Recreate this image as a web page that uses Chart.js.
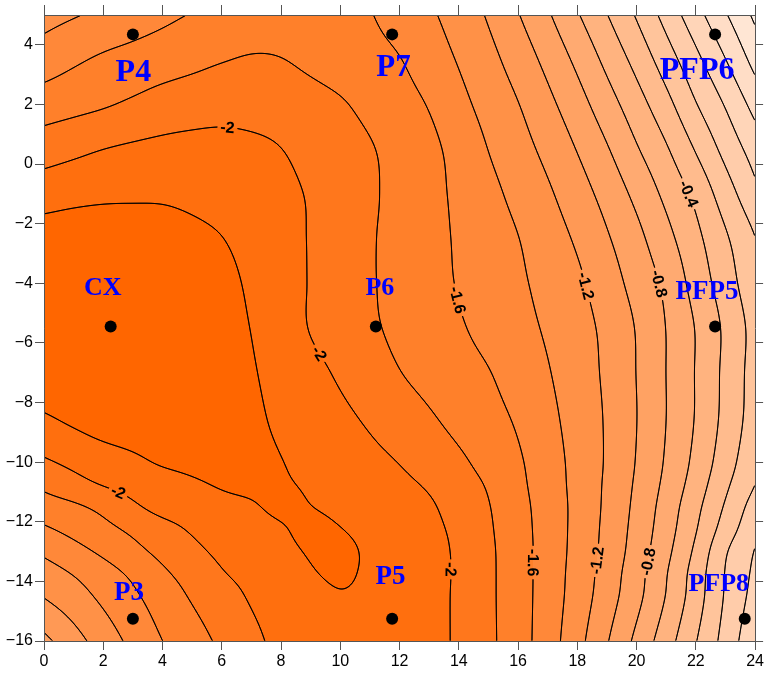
<!DOCTYPE html>
<html>
<head>
<meta charset="utf-8">
<script src="https://cdn.jsdelivr.net/npm/chart.js@4.4.1/dist/chart.umd.min.js"></script>
<style>
  html, body { margin: 0; padding: 0; background: #ffffff; }
  #wrap { width: 766px; height: 673px; }
</style>
</head>
<body>
<div id="wrap"><canvas id="chart" width="766" height="673"></canvas></div>
<script>
// ---- Gridded field values (columns = gridX, one array per row of gridY) ----
const gridX = [0, 1, 2, 3, 4, 5, 6, 7, 8, 9, 10, 11, 12, 13, 14, 15, 16, 17, 18, 19, 20, 21, 22, 23, 24];
const gridY = [5, 3.5, 2, 0.5, -1, -2.5, -4, -5.5, -7, -8.5, -10, -10.75, -11.5, -12.25, -13, -13.75, -14.5, -16];

const rowY5      = [-1.33, -1.385, -1.44, -1.498, -1.555, -1.61, -1.65, -1.70, -1.72, -1.71, -1.68, -1.61, -1.524, -1.431, -1.314, -1.18, -1.01, -0.824, -0.617, -0.406, -0.182, 0.072, 0.325, 0.582, 0.84];
const rowY3p5    = [-1.50, -1.57, -1.63, -1.67, -1.71, -1.75, -1.79, -1.815, -1.805, -1.761, -1.71, -1.659, -1.608, -1.502, -1.385, -1.259, -1.113, -0.944, -0.756, -0.548, -0.336, -0.097, 0.148, 0.395, 0.67];
const rowY2      = [-1.70, -1.74, -1.78, -1.83, -1.88, -1.91, -1.93, -1.925, -1.91, -1.87, -1.82, -1.747, -1.67, -1.589, -1.457, -1.33, -1.207, -1.051, -0.879, -0.686, -0.484, -0.264, -0.01, 0.215, 0.47];
const rowY0p5    = [-1.91, -1.955, -2.0, -2.03, -2.05, -2.06, -2.06, -2.04, -2.003, -1.941, -1.878, -1.815, -1.733, -1.646, -1.535, -1.396, -1.277, -1.146, -0.991, -0.817, -0.618, -0.422, -0.184, 0.063, 0.29];
const rowYm1     = [-2.11, -2.14, -2.16, -2.168, -2.17, -2.15, -2.12, -2.08, -2.04, -1.985, -1.903, -1.827, -1.743, -1.656, -1.562, -1.455, -1.345, -1.229, -1.088, -0.929, -0.75, -0.552, -0.351, -0.095, 0.15];
const rowYm2p5   = [-2.29, -2.31, -2.32, -2.31, -2.29, -2.25, -2.205, -2.133, -2.062, -1.989, -1.903, -1.818, -1.738, -1.659, -1.578, -1.491, -1.405, -1.293, -1.173, -1.02, -0.856, -0.661, -0.452, -0.228, -0.005];
const rowYm4     = [-2.32, -2.33, -2.34, -2.335, -2.32, -2.29, -2.25, -2.172, -2.08, -1.989, -1.904, -1.818, -1.741, -1.665, -1.588, -1.51, -1.432, -1.339, -1.237, -1.092, -0.929, -0.756, -0.522, -0.296, -0.06];
const rowYm5p5   = [-2.33, -2.34, -2.35, -2.345, -2.33, -2.30, -2.25, -2.197, -2.092, -1.99, -1.91, -1.83, -1.757, -1.689, -1.62, -1.543, -1.462, -1.376, -1.273, -1.152, -0.988, -0.796, -0.591, -0.362, -0.125];
const rowYm7     = [-2.33, -2.34, -2.34, -2.335, -2.32, -2.295, -2.26, -2.215, -2.135, -2.055, -1.974, -1.89, -1.805, -1.739, -1.674, -1.609, -1.514, -1.413, -1.295, -1.165, -0.996, -0.798, -0.59, -0.352, -0.115];
const rowYm8p5   = [-2.18, -2.24, -2.29, -2.305, -2.31, -2.30, -2.27, -2.23, -2.169, -2.104, -2.04, -1.972, -1.896, -1.82, -1.742, -1.663, -1.574, -1.451, -1.32, -1.179, -1.003, -0.80, -0.588, -0.343, -0.105];
const rowYm10    = [-1.975, -2.043, -2.11, -2.163, -2.22, -2.24, -2.245, -2.235, -2.205, -2.151, -2.10, -2.048, -1.995, -1.914, -1.834, -1.737, -1.626, -1.488, -1.338, -1.18, -0.99, -0.778, -0.548, -0.291, -0.05];
const rowYm10p75 = [-1.843, -1.932, -2.013, -2.067, -2.12, -2.174, -2.215, -2.225, -2.215, -2.18, -2.126, -2.079, -2.04, -1.978, -1.88, -1.783, -1.645, -1.498, -1.341, -1.169, -0.972, -0.751, -0.507, -0.238, -0.002];
const rowYm11p5  = [-1.71, -1.765, -1.85, -1.97, -2.06, -2.09, -2.15, -2.185, -2.23, -2.202, -2.16, -2.12, -2.075, -2.025, -1.92, -1.81, -1.665, -1.511, -1.346, -1.161, -0.952, -0.715, -0.454, -0.177, 0.09];
const rowYm12p25 = [-1.573, -1.656, -1.746, -1.838, -1.936, -2.019, -2.074, -2.129, -2.184, -2.24, -2.205, -2.147, -2.088, -2.045, -1.955, -1.825, -1.677, -1.515, -1.342, -1.149, -0.933, -0.689, -0.414, -0.11, 0.15];
const rowYm13    = [-1.435, -1.534, -1.636, -1.745, -1.852, -1.958, -2.035, -2.094, -2.153, -2.215, -2.24, -2.172, -2.109, -2.06, -1.97, -1.836, -1.685, -1.516, -1.335, -1.138, -0.911, -0.653, -0.359, -0.017, 0.21];
const rowYm13p75 = [-1.308, -1.408, -1.518, -1.634, -1.765, -1.879, -1.987, -2.054, -2.116, -2.185, -2.225, -2.171, -2.108, -2.055, -1.975, -1.838, -1.686, -1.512, -1.322, -1.114, -0.877, -0.611, -0.31, 0.012, 0.24];
const rowYm14p5  = [-1.21, -1.317, -1.443, -1.567, -1.695, -1.82, -1.92, -2.02, -2.08, -2.14, -2.19, -2.16, -2.11, -2.06, -1.97, -1.838, -1.685, -1.509, -1.311, -1.094, -0.858, -0.592, -0.295, 0.021, 0.27];
const rowYm16    = [-0.95, -1.123, -1.293, -1.452, -1.6, -1.719, -1.837, -1.953, -2.05, -2.11, -2.13, -2.12, -2.10, -2.06, -1.97, -1.841, -1.685, -1.495, -1.266, -1.015, -0.753, -0.488, -0.209, 0.073, 0.357];

const zRows = [rowY5, rowY3p5, rowY2, rowY0p5, rowYm1, rowYm2p5, rowYm4, rowYm5p5, rowYm7, rowYm8p5,
               rowYm10, rowYm10p75, rowYm11p5, rowYm12p25, rowYm13, rowYm13p75, rowYm14p5, rowYm16];

// ---- Contour levels and labelled contours ----
const contourLevels = [-2.2, -2.0, -1.8, -1.6, -1.4, -1.2, -1.0, -0.8, -0.6, -0.4, -0.2, 0.0, 0.2, 0.4, 0.6, 0.8];
const labelLevels = [-2, -2, -2, -2, -1.6, -1.6, -1.2, -1.2, -0.8, -0.8, -0.4];
const labelX      = [6.19, 9.28, 2.45, 13.75, 13.88, 16.58, 18.36, 18.7, 20.82, 20.55, 21.8];
const labelY      = [1.19, -6.36, -11.12, -13.6, -4.58, -13.37, -4.07, -13.3, -4.0, -13.37, -0.98];

// ---- Stations ----
const stationNames = ['P4', 'P7', 'PFP6', 'CX', 'P6', 'PFP5', 'P3', 'P5', 'PFP8'];
const stationX     = [3.0, 11.75, 22.65, 2.25, 11.2, 22.65, 3.0, 11.75, 23.65];
const stationY     = [4.35, 4.35, 4.35, -5.45, -5.45, -5.45, -15.25, -15.25, -15.25];

// ---- Axis ticks ----
const xTickValues = [0, 2, 4, 6, 8, 10, 12, 14, 16, 18, 20, 22, 24];
const yTickValues = [-16, -14, -12, -10, -8, -6, -4, -2, 0, 2, 4];

// ---- Styling ----
const labelReadDir = [[1, 0], [0, 1], [1, 0], [0, 1], [0, 1], [0, 1], [0, 1], [0, -1], [0, 1], [0, -1], [0, 1]];
const stationLabelStyle = [
  { dx: 0.5, dy: 47, size: 32 }, { dx: 1.4, dy: 42, size: 31 }, { dx: -18, dy: 45, size: 32 },
  { dx: -8, dy: -32, size: 26 }, { dx: 4, dy: -32, size: 26 }, { dx: -8, dy: -28, size: 27 },
  { dx: -4, dy: -19, size: 27 }, { dx: -1.6, dy: -35, size: 27 }, { dx: -26, dy: -28, size: 26 }
];
const lowColor = [255, 102, 0];
const highColor = [255, 238, 226];
const smoothSigmaPx = 5;

// ---- Smooth surface: Catmull-Rom along x, cubic Hermite along (non-uniform) y ----
const NX = gridX.length, NY = gridY.length;
const rowExt = zRows.map(r => [2 * r[0] - r[1], ...r, 2 * r[NX - 1] - r[NX - 2]]);
const uY = gridY.map(y => -y);
function cr(p0, p1, p2, p3, t) {
  return p1 + 0.5 * t * (p2 - p0 + t * (2 * p0 - 5 * p1 + 4 * p2 - p3 + t * (3 * (p1 - p2) + p3 - p0)));
}
const dxg = gridX[1] - gridX[0];
function fieldAt(x, y) {
  const fx = (x - gridX[0]) / dxg;
  const i = Math.min(Math.max(Math.floor(fx), 0), NX - 2);
  const tx = fx - i;
  const u = -y;
  let k = 0;
  while (k < NY - 2 && uY[k + 1] < u) k++;
  const rv = idx => { const r = rowExt[idx]; return cr(r[i], r[i + 1], r[i + 2], r[i + 3], tx); };
  const v0 = rv(k), v1 = rv(k + 1);
  const h = uY[k + 1] - uY[k];
  const m0 = k > 0 ? (v1 - rv(k - 1)) / (uY[k + 1] - uY[k - 1]) : (v1 - v0) / h;
  const m1 = k + 2 < NY ? (rv(k + 2) - v0) / (uY[k + 2] - uY[k]) : (v1 - v0) / h;
  const s = (u - uY[k]) / h, s2 = s * s, s3 = s2 * s;
  return (2 * s3 - 3 * s2 + 1) * v0 + (s3 - 2 * s2 + s) * h * m0 + (-2 * s3 + 3 * s2) * v1 + (s3 - s2) * h * m1;
}
function bandColor(v) {
  let k = 0;
  for (const lv of contourLevels) if (v >= lv - 1e-9) k++;
  const t = k / contourLevels.length;
  return [0, 1, 2].map(n => Math.round(lowColor[n] + t * (highColor[n] - lowColor[n])));
}

// sample the surface on a padded pixel lattice and smooth it with a small Gaussian
function sampleField(sx, sy, L, T, W, H) {
  const P = Math.ceil(3 * smoothSigmaPx);
  const PW = W + 2 * P, PH = H + 2 * P;
  let buf = new Float32Array(PW * PH);
  for (let j = 0; j < PH; j++) {
    const yv = sy.getValueForPixel(T - P + j + 0.5);
    for (let i = 0; i < PW; i++) buf[j * PW + i] = fieldAt(sx.getValueForPixel(L - P + i + 0.5), yv);
  }
  const ker = [];
  let ks = 0;
  for (let d = -P; d <= P; d++) { const w = Math.exp(-d * d / (2 * smoothSigmaPx * smoothSigmaPx)); ker.push(w); ks += w; }
  for (let d = 0; d < ker.length; d++) ker[d] /= ks;
  const tmp = new Float32Array(PW * PH);
  for (let j = 0; j < PH; j++) {
    for (let i = 0; i < PW; i++) {
      let acc = 0;
      for (let d = -P; d <= P; d++) {
        const ii = Math.min(Math.max(i + d, 0), PW - 1);
        acc += ker[d + P] * buf[j * PW + ii];
      }
      tmp[j * PW + i] = acc;
    }
  }
  const out = new Float32Array(W * H);
  for (let j = 0; j < H; j++) {
    for (let i = 0; i < W; i++) {
      let acc = 0;
      for (let d = -P; d <= P; d++) {
        const jj = Math.min(Math.max(j + P + d, 0), PH - 1);
        acc += ker[d + P] * tmp[jj * PW + i + P];
      }
      out[j * W + i] = acc;
    }
  }
  return out;
}

// ---- Plugin: filled contour bands, contour lines and their labels ----
const contourPlugin = {
  id: 'contourField',
  beforeDraw(chart) {
    const { ctx, chartArea: a } = chart;
    const sx = chart.scales.x, sy = chart.scales.y;
    const L = Math.round(a.left), T = Math.round(a.top);
    const W = Math.round(a.right) - L, H = Math.round(a.bottom) - T;
    const vals = sampleField(sx, sy, L, T, W, H);
    const img = ctx.createImageData(W, H);
    for (let p = 0; p < W * H; p++) {
      const c = bandColor(vals[p]);
      img.data[4 * p] = c[0]; img.data[4 * p + 1] = c[1]; img.data[4 * p + 2] = c[2]; img.data[4 * p + 3] = 255;
    }
    ctx.putImageData(img, L, T);

    // bilinear lookup in the sampled lattice, by pixel position
    const valAtPx = (px, py) => {
      const fx = Math.min(Math.max(px - L - 0.5, 0), W - 1.001), fy = Math.min(Math.max(py - T - 0.5, 0), H - 1.001);
      const i = Math.floor(fx), j = Math.floor(fy), tx = fx - i, ty = fy - j;
      const q = j * W + i;
      return (vals[q] * (1 - tx) + vals[q + 1] * tx) * (1 - ty) + (vals[q + W] * (1 - tx) + vals[q + W + 1] * tx) * ty;
    };

    // label placement: move each label onto its contour, orient along it
    ctx.font = 'bold 16px "Liberation Sans", Arial, sans-serif';
    const labels = labelLevels.map((lev, k) => {
      let px = sx.getPixelForValue(labelX[k]), py = sy.getPixelForValue(labelY[k]);
      const e = 1.5;
      let gx = 0, gy = 0;
      for (let it = 0; it < 12; it++) {
        const f = valAtPx(px, py) - lev;
        gx = (valAtPx(px + e, py) - valAtPx(px - e, py)) / (2 * e);
        gy = (valAtPx(px, py + e) - valAtPx(px, py - e)) / (2 * e);
        const g2 = gx * gx + gy * gy;
        if (g2 < 1e-14) break;
        let stx = f * gx / g2, sty = f * gy / g2;
        const sl = Math.hypot(stx, sty);
        if (sl > 4) { stx *= 4 / sl; sty *= 4 / sl; }
        px -= stx; py -= sty;
      }
      let ang = Math.atan2(gx, -gy);
      const d = labelReadDir[k];
      if (Math.cos(ang) * d[0] + Math.sin(ang) * d[1] < 0) ang += Math.PI;
      const text = String(lev);
      return { px, py, ang, text, w: ctx.measureText(text).width };
    });

    ctx.save();
    ctx.beginPath();
    ctx.rect(L, T, W, H);
    for (const lb of labels) {
      const hw = lb.w / 2 + 3, hh = 7;
      const c = Math.cos(lb.ang), s = Math.sin(lb.ang);
      const pts = [[-hw, -hh], [hw, -hh], [hw, hh], [-hw, hh]].map(([u, v]) => [lb.px + u * c - v * s, lb.py + u * s + v * c]);
      ctx.moveTo(pts[0][0], pts[0][1]);
      for (let q = 1; q < 4; q++) ctx.lineTo(pts[q][0], pts[q][1]);
      ctx.closePath();
    }
    ctx.clip('evenodd');
    ctx.strokeStyle = '#000000';
    ctx.lineWidth = 1;
    ctx.lineCap = 'round';
    for (const lev of contourLevels) {
      ctx.beginPath();
      for (let j = 0; j < H - 1; j++) {
        for (let i = 0; i < W - 1; i++) {
          const a0 = vals[j * W + i], b0 = vals[j * W + i + 1], c0 = vals[(j + 1) * W + i + 1], d0 = vals[(j + 1) * W + i];
          const idx = (a0 >= lev ? 8 : 0) | (b0 >= lev ? 4 : 0) | (c0 >= lev ? 2 : 0) | (d0 >= lev ? 1 : 0);
          if (idx === 0 || idx === 15) continue;
          const x0 = L + i + 0.5, y0 = T + j + 0.5;
          const top = () => [x0 + (lev - a0) / (b0 - a0), y0];
          const right = () => [x0 + 1, y0 + (lev - b0) / (c0 - b0)];
          const bottom = () => [x0 + (lev - d0) / (c0 - d0), y0 + 1];
          const left = () => [x0, y0 + (lev - a0) / (d0 - a0)];
          const seg = (p, q) => { ctx.moveTo(p[0], p[1]); ctx.lineTo(q[0], q[1]); };
          switch (idx) {
            case 1: case 14: seg(left(), bottom()); break;
            case 2: case 13: seg(bottom(), right()); break;
            case 3: case 12: seg(left(), right()); break;
            case 4: case 11: seg(top(), right()); break;
            case 6: case 9: seg(top(), bottom()); break;
            case 7: case 8: seg(left(), top()); break;
            case 5: case 10: {
              const ctr = (a0 + b0 + c0 + d0) / 4 >= lev;
              if ((idx === 5) === ctr) { seg(left(), top()); seg(bottom(), right()); }
              else { seg(top(), right()); seg(left(), bottom()); }
              break;
            }
          }
        }
      }
      ctx.stroke();
    }
    ctx.restore();

    ctx.save();
    ctx.fillStyle = '#000000';
    ctx.textAlign = 'center';
    ctx.textBaseline = 'middle';
    for (const lb of labels) {
      ctx.save();
      ctx.translate(lb.px, lb.py);
      ctx.rotate(lb.ang);
      ctx.fillText(lb.text, 0, 1);
      ctx.restore();
    }
    ctx.restore();
  }
};

// ---- Plugin: station names ----
const stationLabelPlugin = {
  id: 'stationLabels',
  afterDatasetsDraw(chart) {
    const { ctx } = chart;
    const sx = chart.scales.x, sy = chart.scales.y;
    ctx.save();
    ctx.fillStyle = '#0000ff';
    ctx.textAlign = 'center';
    ctx.textBaseline = 'alphabetic';
    stationNames.forEach((name, k) => {
      const st = stationLabelStyle[k];
      ctx.font = 'bold ' + st.size + 'px "Liberation Serif", "Times New Roman", serif';
      ctx.fillText(name, sx.getPixelForValue(stationX[k]) + st.dx, sy.getPixelForValue(stationY[k]) + st.dy);
    });
    ctx.restore();
  }
};

const tickFont = { family: '"Liberation Sans", Arial, sans-serif', size: 16 };
const axisGrey = '#555555';
const minusLabel = v => String(v).replace('-', '\u2212');
function setTicks(values) { return scale => { scale.ticks = values.map(v => ({ value: v })); }; }

new Chart(document.getElementById('chart'), {
  type: 'scatter',
  data: {
    datasets: [{
      data: stationX.map((x, k) => ({ x, y: stationY[k] })),
      pointRadius: 6,
      pointHoverRadius: 6,
      backgroundColor: '#000000',
      borderWidth: 0
    }]
  },
  options: {
    responsive: false,
    animation: false,
    events: [],
    layout: { padding: 0 },
    plugins: { legend: { display: false }, tooltip: { enabled: false } },
    scales: {
      x: {
        type: 'linear', position: 'bottom', min: 0, max: 24,
        afterBuildTicks: setTicks(xTickValues),
        afterFit: s => { s.height = 32; },
        ticks: { font: tickFont, color: '#000000', padding: 2, maxRotation: 0, autoSkip: false, callback: minusLabel },
        grid: { drawOnChartArea: false, drawTicks: true, tickLength: 9, color: axisGrey, tickColor: axisGrey },
        border: { display: true, color: axisGrey, width: 1 }
      },
      y: {
        type: 'linear', position: 'left', min: -16, max: 5,
        afterBuildTicks: setTicks(yTickValues),
        afterFit: s => { s.width = 44; },
        ticks: { font: tickFont, color: '#000000', padding: 2, autoSkip: false, callback: minusLabel },
        grid: { drawOnChartArea: false, drawTicks: true, tickLength: 9, color: axisGrey, tickColor: axisGrey },
        border: { display: true, color: axisGrey, width: 1 }
      },
      x2: {
        type: 'linear', position: 'top', min: 0, max: 24,
        afterBuildTicks: setTicks(xTickValues),
        afterFit: s => { s.height = 15; },
        ticks: { display: false },
        grid: { drawOnChartArea: false, drawTicks: true, tickLength: 10, color: axisGrey, tickColor: axisGrey },
        border: { display: true, color: axisGrey, width: 1 }
      },
      y2: {
        type: 'linear', position: 'right', min: -16, max: 5,
        afterBuildTicks: setTicks(yTickValues),
        afterFit: s => { s.width = 8; },
        ticks: { display: false },
        grid: { drawOnChartArea: false, drawTicks: true, tickLength: 8, color: axisGrey, tickColor: axisGrey },
        border: { display: true, color: axisGrey, width: 1 }
      }
    }
  },
  plugins: [contourPlugin, stationLabelPlugin]
});
</script>
</body>
</html>
